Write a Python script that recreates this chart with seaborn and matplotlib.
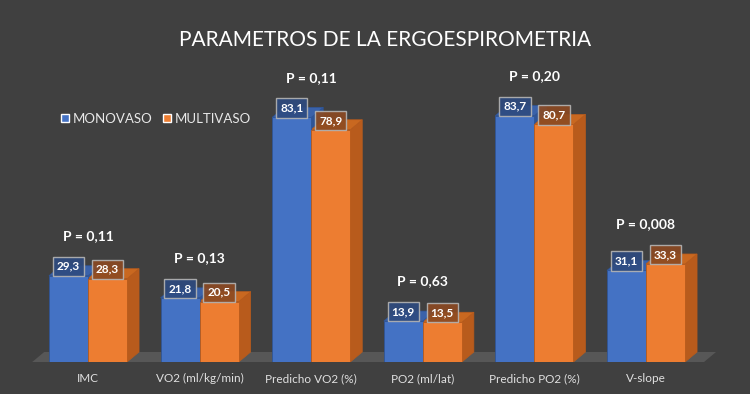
import pandas as pd
import seaborn as sns
import matplotlib.pyplot as plt
from matplotlib.patches import Polygon

# Datos
categorias = ["IMC", "VO2 (ml/kg/min)", "Predicho VO2 (%)", "PO2 (ml/lat)",
              "Predicho PO2 (%)", "V-slope"]
monovaso = [29.3, 21.8, 83.1, 13.9, 83.7, 31.1]
multivaso = [28.3, 20.5, 78.9, 13.5, 80.7, 33.3]
p_valores = ["P = 0,11", "P = 0,13", "P = 0,11", "P = 0,63", "P = 0,20", "P = 0,008"]
grupos = ["MONOVASO", "MULTIVASO"]

BG = "#404040"
colores = {"MONOVASO": "#4472C4", "MULTIVASO": "#ED7D31"}
lados = {"MONOVASO": "#2F5597", "MULTIVASO": "#B85B1C"}
techos = {"MONOVASO": "#3A62AA", "MULTIVASO": "#C96820"}
etiquetas = {"MONOVASO": "#2E4B80", "MULTIVASO": "#8C4A22"}

df = pd.DataFrame({
    "categoria": categorias * 2,
    "valor": monovaso + multivaso,
    "grupo": [grupos[0]] * len(categorias) + [grupos[1]] * len(categorias),
})

sns.set_theme(style="white")
plt.rcParams["font.family"] = ["Lato", "DejaVu Sans"]

fig = plt.figure(figsize=(7.5, 3.94), dpi=100, facecolor=BG)
ax = fig.add_axes([0, 32 / 394, 1, 312 / 394])
ax.set_facecolor(BG)

sns.barplot(data=df, x="categoria", y="valor", hue="grupo", order=categorias,
            hue_order=grupos, palette=colores, width=0.7, saturation=1,
            ax=ax, zorder=3)

ax.set_xlim(-88 / 111.6, (750 - 88) / 111.6)
ax.set_ylim(0, 106)

# profundidad 3D
dx = 12 / 111.6
dy = 10 / 2.94

floor = Polygon([(-0.5, 0), (-0.5 + dx, dy), (5.52 + dx, dy), (5.52, 0)],
                closed=True, facecolor="#575757", edgecolor="none", zorder=1)
ax.add_patch(floor)

for cont, g in zip(ax.containers, grupos):
    for bar in cont:
        bar.set_edgecolor(lados[g])
        bar.set_linewidth(0.6)
        x0 = bar.get_x()
        x1 = x0 + bar.get_width()
        h = bar.get_height()
        side = Polygon([(x1, 0), (x1 + dx, dy), (x1 + dx, h + dy), (x1, h)],
                       closed=True, facecolor=lados[g], edgecolor=lados[g],
                       linewidth=0.5, zorder=2)
        top = Polygon([(x0, h), (x0 + dx, h + dy), (x1 + dx, h + dy), (x1, h)],
                      closed=True, facecolor=techos[g], edgecolor=lados[g],
                      linewidth=0.5, zorder=2)
        ax.add_patch(side)
        ax.add_patch(top)
        ax.text(x0 + bar.get_width() / 2, h + 3.2, f"{h:.1f}".replace(".", ","),
                ha="center", va="center", color="white", fontsize=8.5,
                fontweight="bold", zorder=5,
                bbox=dict(boxstyle="square,pad=0.35", facecolor=etiquetas[g],
                          edgecolor="#b5b5b5", linewidth=1.0, alpha=0.9))

for i, p in enumerate(p_valores):
    ax.text(i, max(monovaso[i], multivaso[i]) + 13.5, p, ha="center",
            va="center", color="white", fontsize=10, fontweight="bold", zorder=5)

ax.set_xlabel("")
ax.set_ylabel("")
ax.set_yticks([])
ax.tick_params(axis="x", length=0, pad=8, colors="#e0e0e0", labelsize=8.5)
for s in ax.spines.values():
    s.set_visible(False)

ax.legend(loc="center left", bbox_to_anchor=(0.065, 0.78), ncol=2, frameon=False,
          handlelength=0.6, handleheight=0.6, handletextpad=0.3, columnspacing=0.8,
          labelcolor="#e8e8e8", fontsize=9.5)

fig.text(0.513, 0.898, "PARAMETROS DE LA ERGOESPIROMETRIA", ha="center",
         va="center", color="white", fontsize=15)

fig.savefig("out.png", dpi=100, facecolor=BG)
